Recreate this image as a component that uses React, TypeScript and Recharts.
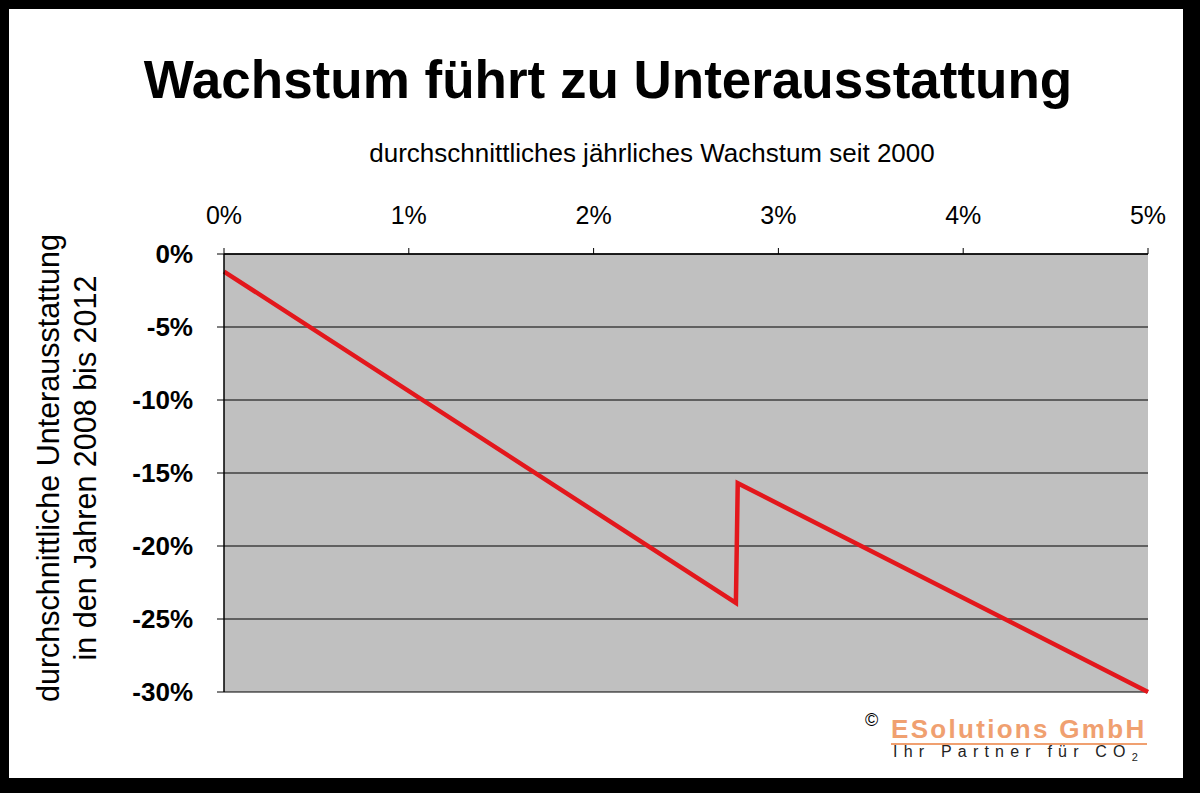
import React from "react";
import {
  LineChart,
  Line,
  XAxis,
  YAxis,
  CartesianGrid
} from "recharts";

// average yearly growth since 2000 (%) vs average under-allocation 2008-2012 (%)
const growth = [0, 2.77, 2.78, 5];
const shortfall = [-1.2, -23.9, -15.7, -30];
const xTicks = [0, 1, 2, 3, 4, 5];
const yTicks = [0, -5, -10, -15, -20, -25, -30];

const data = growth.map((g, i) => ({ growth: g, shortfall: shortfall[i] }));

const FONT = '"Liberation Sans", Arial, sans-serif';

export default function App() {
  return (
    <div
      style={{
        position: "absolute",
        left: 0,
        top: 0,
        width: 1200,
        height: 793,
        background: "#000",
        fontFamily: FONT
      }}
    >
      <div
        style={{
          position: "absolute",
          left: 9,
          top: 9,
          width: 1174,
          height: 769,
          background: "#fff"
        }}
      />
      <LineChart
        width={1200}
        height={793}
        data={data}
        margin={{ top: 194, right: 52, bottom: 101, left: 164 }}
        style={{ position: "absolute", left: 0, top: 0 }}
      >
        <CartesianGrid
          vertical={false}
          stroke="#000"
          strokeWidth={1}
          fill="#c0c0c0"
          fillOpacity={1}
        />
        <XAxis
          dataKey="growth"
          type="number"
          orientation="top"
          domain={[0, 5]}
          ticks={xTicks}
          height={60}
          tickFormatter={(v) => `${v}%`}
          tick={{ fill: "#000", fontSize: 25, fontFamily: FONT }}
          tickSize={6}
          tickMargin={24}
          axisLine={{ stroke: "#000", strokeWidth: 1.5 }}
          tickLine={{ stroke: "#000" }}
        />
        <YAxis
          type="number"
          domain={[-30, 0]}
          ticks={yTicks}
          width={60}
          tickFormatter={(v) => `${v}%`}
          tick={{ fill: "#000", fontSize: 26, fontWeight: "bold", fontFamily: FONT }}
          tickSize={7}
          tickMargin={24}
          axisLine={{ stroke: "#000", strokeWidth: 1.5 }}
          tickLine={{ stroke: "#000" }}
        />
        <Line
          dataKey="shortfall"
          type="linear"
          stroke="#e3171c"
          strokeWidth={4.5}
          dot={false}
          isAnimationActive={false}
        />
      </LineChart>

      <div
        style={{
          position: "absolute",
          left: 0,
          width: 1216,
          top: 48,
          textAlign: "center",
          fontSize: 53,
          fontWeight: "bold",
          color: "#000",
          lineHeight: "64px"
        }}
      >
        Wachstum führt zu Unterausstattung
      </div>
      <div
        style={{
          position: "absolute",
          left: 0,
          width: 1304,
          top: 138,
          textAlign: "center",
          fontSize: 26,
          color: "#000",
          lineHeight: "30px"
        }}
      >
        durchschnittliches jährliches Wachstum seit 2000
      </div>

      <div
        style={{
          position: "absolute",
          left: 67,
          top: 468,
          width: 600,
          transform: "translate(-50%, -50%) rotate(-90deg)",
          textAlign: "center",
          fontSize: 30.5,
          color: "#000",
          lineHeight: "37px"
        }}
      >
        durchschnittliche Unterausstattung
        <br />
        in den Jahren 2008 bis 2012
      </div>

      <div
        style={{
          position: "absolute",
          left: 865,
          top: 710,
          fontSize: 18,
          color: "#000"
        }}
      >
        ©
      </div>
      <div
        style={{
          position: "absolute",
          left: 891,
          top: 715,
          fontSize: 26,
          fontWeight: "bold",
          color: "#f0a070",
          letterSpacing: 2.3,
          lineHeight: "28px",
          borderBottom: "2px solid #f0a070"
        }}
      >
        ESolutions GmbH
      </div>
      <div
        style={{
          position: "absolute",
          left: 893,
          top: 742,
          fontSize: 16,
          color: "#222",
          letterSpacing: 6.2,
          lineHeight: "20px"
        }}
      >
        Ihr Partner für CO<sub style={{ fontSize: 11 }}>2</sub>
      </div>
    </div>
  );
}
